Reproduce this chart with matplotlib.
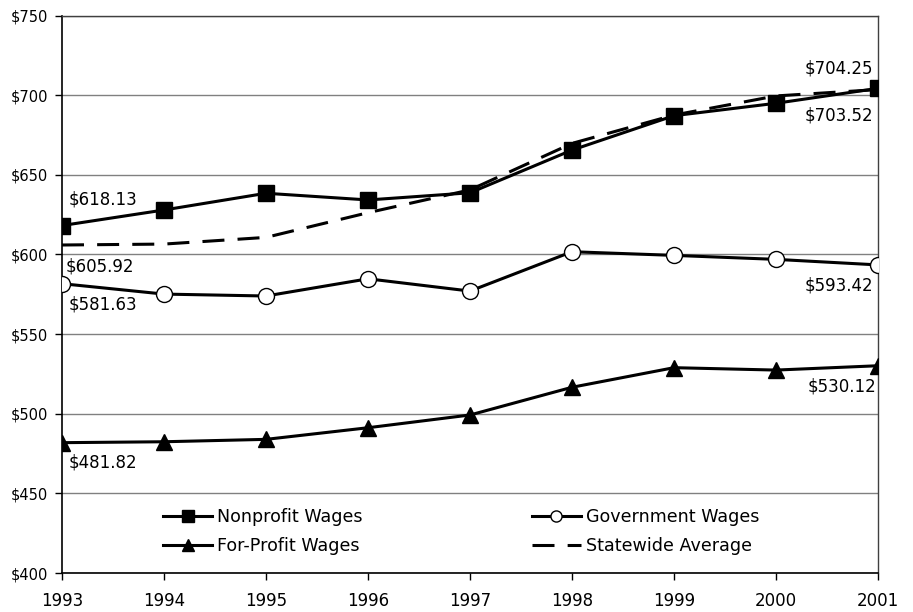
import matplotlib
matplotlib.use("Agg")
import matplotlib.pyplot as plt
from matplotlib.lines import Line2D

plt.rcParams['font.family'] = ['DejaVu Sans']

years = [1993, 1994, 1995, 1996, 1997, 1998, 1999, 2000, 2001]
nonprofit = [618.13, 627.9, 638.4, 634.2, 638.7, 665.5, 687.1, 694.9, 704.25]
government = [581.63, 575.1, 573.9, 584.7, 577.0, 601.7, 599.4, 596.9, 593.42]
forprofit = [481.82, 482.4, 483.9, 491.2, 499.2, 516.6, 528.9, 527.4, 530.12]
statewide = [605.92, 606.5, 610.7, 626.2, 640.5, 669.7, 687.5, 699.5, 703.52]
yticks = [400, 450, 500, 550, 600, 650, 700, 750]
series_names = ["Nonprofit Wages", "For-Profit Wages", "Government Wages", "Statewide Average"]

fig = plt.figure(figsize=(9.13, 6.12), dpi=100)
ax = fig.add_axes([62/913, 39/612, 816/913, 557.5/612])

lw = 2.2
dash = (7.2, 4.3)
ax.plot(years, statewide, color='black', lw=lw, ls=(0, dash), zorder=3)
ax.plot(years, nonprofit, color='black', lw=lw, marker='s', ms=12, mfc='black', mec='black', zorder=4)
ax.plot(years, government, color='black', lw=lw, marker='o', ms=11.5, mfc='white', mec='black', mew=1, zorder=4)
ax.plot(years, forprofit, color='black', lw=lw, marker='^', ms=12, mfc='black', mec='black', zorder=4)

ax.set_xlim(years[0], years[-1])
ax.set_ylim(yticks[0], yticks[-1])
ax.set_xticks(years)
ax.set_xticklabels([str(y) for y in years], fontsize=12)
ax.set_yticks(yticks)
ax.set_yticklabels([f"${v}" for v in yticks], fontsize=10.5)
ax.tick_params(axis='both', direction='out', length=5, width=1, color='black')
ax.tick_params(axis='x', pad=9)
ax.tick_params(axis='y', pad=5)
ax.yaxis.grid(True, color='#808080', lw=1)
ax.set_axisbelow(True)
for s in ['left', 'bottom']:
    ax.spines[s].set_color('black')
    ax.spines[s].set_linewidth(1.2)
for s in ['top', 'right']:
    ax.spines[s].set_color('#404040')
    ax.spines[s].set_linewidth(1)

fs = 12
def lab(x, y, dx, dy, ha):
    ax.annotate(f"${y:.2f}", (x, y), xytext=(dx, dy), textcoords='offset pixels',
                ha=ha, va='center', fontsize=fs)

lab(years[0], nonprofit[0], 7, 26, 'left')
lab(years[0], statewide[0], 4, -22, 'left')
lab(years[0], government[0], 7, -21, 'left')
lab(years[0], forprofit[0], 7, -20, 'left')
lab(years[-1], nonprofit[-1], -5, 20, 'right')
lab(years[-1], statewide[-1], -5, -26, 'right')
lab(years[-1], government[-1], -5, -21, 'right')
lab(years[-1], forprofit[-1], -2, -21, 'right')

handles = [
    Line2D([], [], color='black', lw=lw, marker='s', ms=9),
    Line2D([], [], color='black', lw=lw, marker='^', ms=9),
    Line2D([], [], color='black', lw=lw, marker='o', ms=8, mfc='white', mec='black', mew=1),
    Line2D([], [], color='black', lw=lw, ls=(0, dash)),
]
leg = ax.legend(handles, series_names, ncol=2, loc='upper left',
                bbox_to_anchor=((163-62)/816, (573-508)/557.5),
                frameon=False, fontsize=12.6, borderpad=0, borderaxespad=0,
                handlelength=2.8, handletextpad=0.3, columnspacing=9.65,
                labelspacing=0.62)

fig.savefig("out.png", dpi=100)
